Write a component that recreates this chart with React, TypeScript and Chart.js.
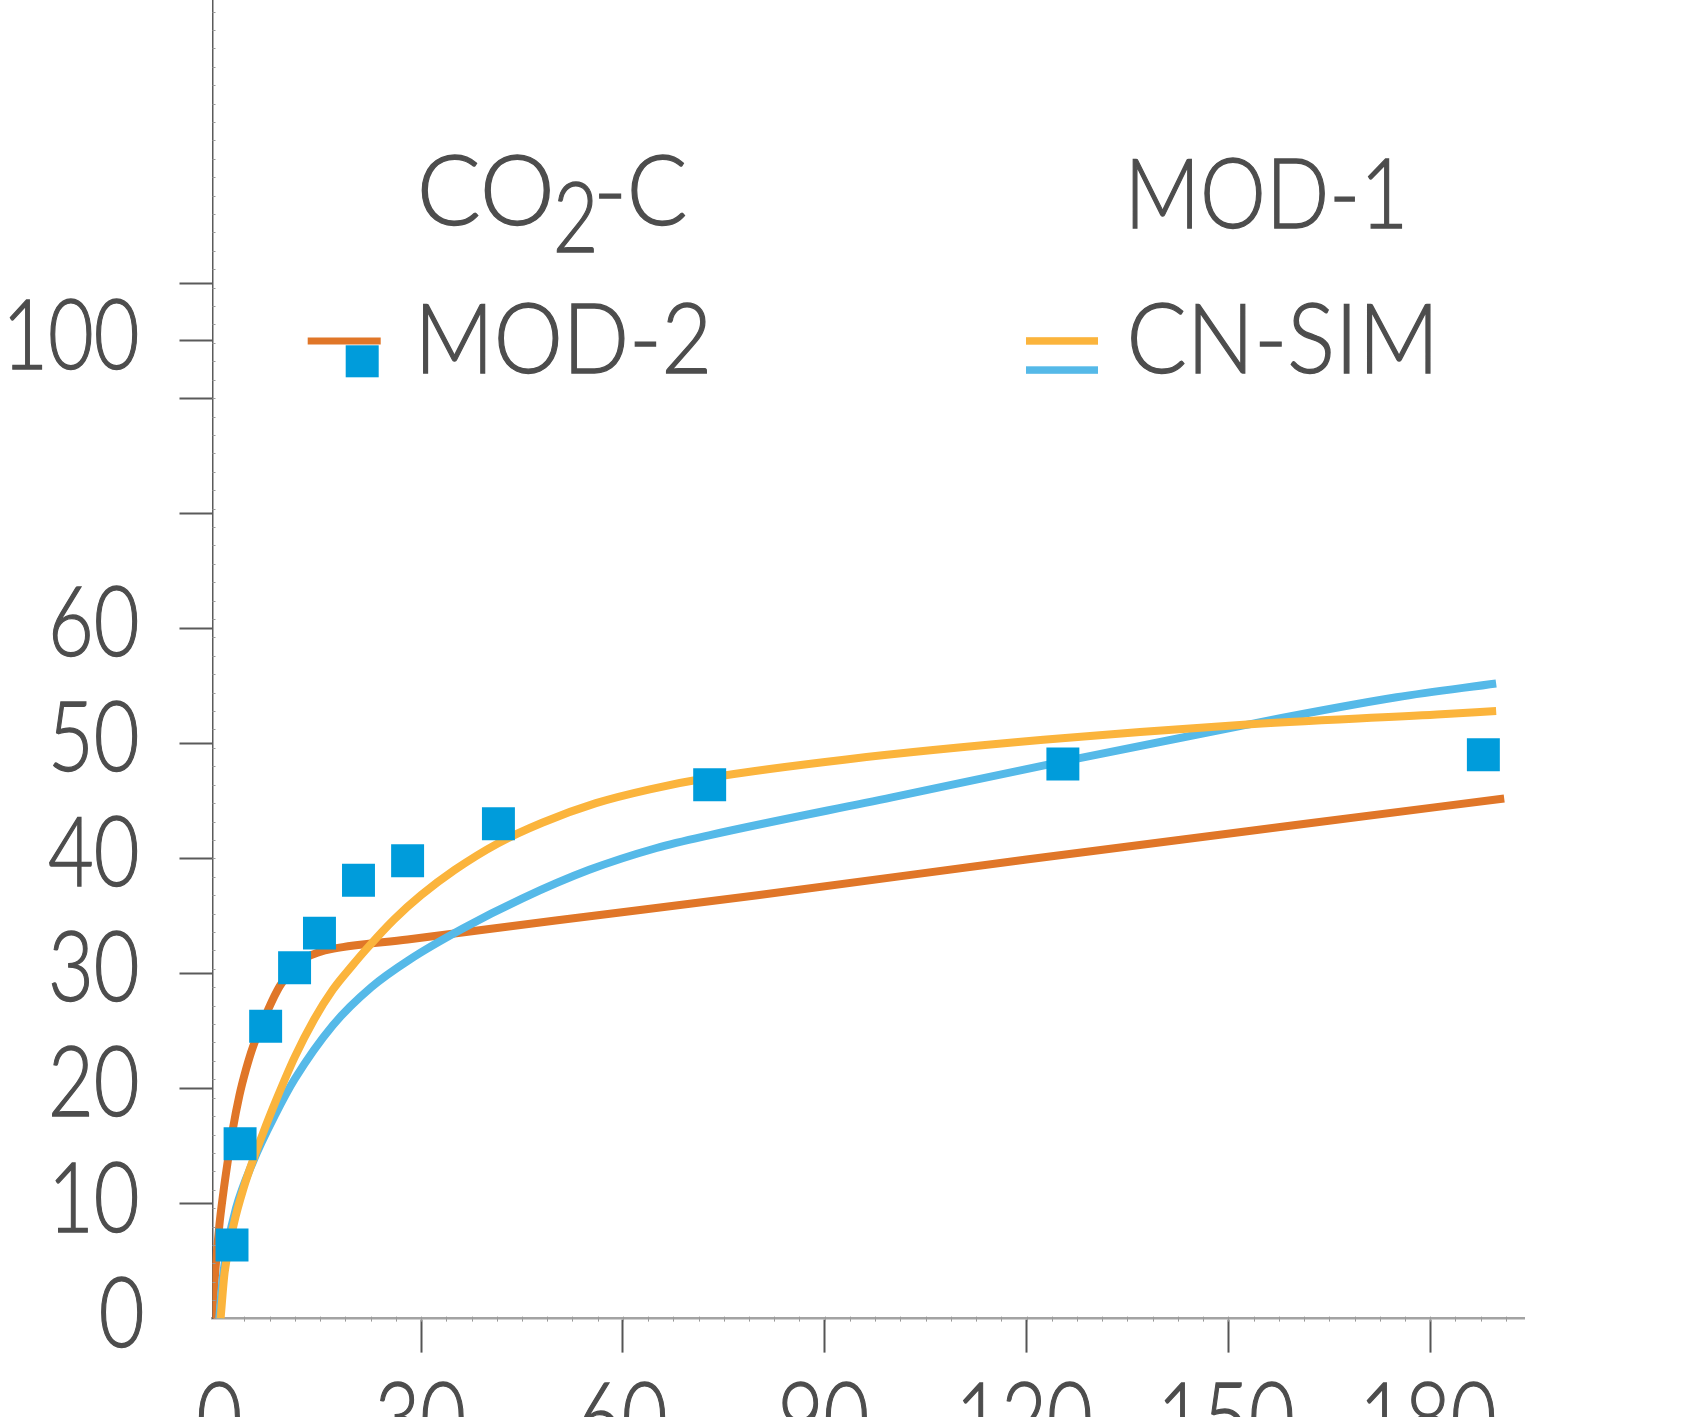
import React, { useEffect, useRef } from 'react';
import { Chart, registerables } from 'chart.js';

Chart.register(...registerables);

// ---- Data ----
const co2cDays = [1.9, 3.1, 6.9, 11.2, 14.9, 20.7, 28.0, 41.5, 72.9, 125.4, 187.9];
const co2cValues = [6.4, 15.2, 25.4, 30.5, 33.5, 38.1, 39.8, 43.0, 46.4, 48.2, 49.0];

const mod2Days = [-1.1, -0.6, 0, 0.6, 1.2, 2.0, 3.0, 4.0, 5.0, 7.3, 9.0, 11.2, 13, 14.6, 17, 28, 50, 80, 120, 160, 191];
const mod2Values = [0, 4.0, 8.0, 10.9, 13.4, 16.4, 19.4, 21.7, 23.6, 26.9, 28.9, 30.6, 31.4, 31.8, 32.15, 32.95, 34.6, 36.8, 39.9, 42.9, 45.2];

const mod1Days = [0.2, 0.8, 2.2, 3.6, 5.1, 6.5, 8.4, 11.2, 14.1, 16.9, 19.8, 22.0, 26, 30, 35, 41.4, 48, 56, 64, 72.8, 93.2, 122.5, 151.7, 181, 189.8];
const mod1Values = [0, 4.0, 8.3, 11.3, 13.9, 16.1, 18.9, 22.7, 26.0, 28.6, 30.7, 32.2, 34.7, 36.8, 39.0, 41.3, 43.1, 44.8, 46.0, 47.0, 48.6, 50.3, 51.6, 52.5, 52.8];

const cnsimDays = [0, 0.5, 1.2, 2.5, 5.0, 8.4, 11.2, 16.9, 22.6, 28.3, 36.2, 45, 55, 65, 72.8, 100, 125.3, 151.7, 175, 189.8];
const cnsimValues = [0, 3.4, 6.2, 9.6, 13.6, 17.8, 20.8, 25.5, 28.8, 31.2, 33.9, 36.5, 39.0, 40.9, 42.0, 45.3, 48.4, 51.5, 54.0, 55.2];

const xLabelValues = [0, 30, 60, 90, 120, 150, 180];
const xLabelTexts = ['0', '30', '60', '90', '120', '150', '180'];
const xTickMarkValues = [30, 60, 90, 120, 150, 180];

const yLabelValues = [0, 10, 20, 30, 40, 50, 60, 85];
const yLabelTexts = ['0', '10', '20', '30', '40', '50', '60', '100'];
const yTickMarkValues = [10, 20, 30, 40, 50, 60, 70, 80, 85, 90];

const seriesNames = ['CO2-C', 'MOD-1', 'MOD-2', 'CN-SIM'];

const X_MIN = -1;
const X_MAX = 194;
const Y_MIN = 0;
const Y_MAX = 114.6;

const COLORS = {
  square: '#009cdb',
  mod2: '#e07628',
  mod1: '#fbb43c',
  cnsim: '#55b9e8',
  text: '#4d4d4d',
};

const W = 1681;
const H = 1417;
const AREA = { left: 212.5, right: 1524.4, top: 0, bottom: 1318.6 };
const FONT_FAMILY = 'Lato, "Open Sans", sans-serif';
const FONT_WEIGHT = 300;

function pts(xs: number[], ys: number[]) {
  return xs.map((x, i) => ({ x, y: ys[i] }));
}

type InkOpts = { left?: number; right?: number; center?: number; baseline: number; scaleX?: number; width?: number };

function drawInk(ctx: CanvasRenderingContext2D, text: string, size: number, o: InkOpts) {
  ctx.font = `${FONT_WEIGHT} ${size}px ${FONT_FAMILY}`;
  ctx.textAlign = 'left';
  ctx.textBaseline = 'alphabetic';
  const m = ctx.measureText(text);
  const inkW = m.actualBoundingBoxLeft + m.actualBoundingBoxRight;
  const sx = o.width ? o.width / inkW : (o.scaleX ?? 1);
  const w = inkW * sx;
  let left = 0;
  if (o.left !== undefined) left = o.left;
  else if (o.right !== undefined) left = o.right - w;
  else if (o.center !== undefined) left = o.center - w / 2;
  ctx.save();
  ctx.translate(left, o.baseline);
  ctx.scale(sx, 1);
  ctx.fillText(text, m.actualBoundingBoxLeft, 0);
  ctx.lineWidth = 1.3;
  ctx.strokeStyle = ctx.fillStyle as string;
  ctx.strokeText(text, m.actualBoundingBoxLeft, 0);
  ctx.restore();
}

const decorPlugin = {
  id: 'decor',
  afterDraw(chart: any) {
    const ctx: CanvasRenderingContext2D = chart.ctx;
    const xs = chart.scales.x;
    const ys = chart.scales.y;
    const area = chart.chartArea;
    ctx.save();

    // minor ticks
    ctx.strokeStyle = '#9a9a9a';
    ctx.lineWidth = 1;
    ctx.beginPath();
    for (let v = 3.75; v < X_MAX; v += 3.75) {
      const p = Math.round(xs.getPixelForValue(v)) + 0.5;
      ctx.moveTo(p, area.bottom - 2);
      ctx.lineTo(p, area.bottom + 3);
    }
    for (let v = 1.6; v < Y_MAX; v += 1.6) {
      const p = Math.round(ys.getPixelForValue(v)) + 0.5;
      ctx.moveTo(area.left, p);
      ctx.lineTo(area.left + 3, p);
    }
    ctx.stroke();

    // tick labels
    ctx.fillStyle = COLORS.text;
    const size = 97;
    ctx.font = `${FONT_WEIGHT} ${size}px ${FONT_FAMILY}`;
    const m100 = ctx.measureText('100');
    const digitScale = 127.4 / (m100.actualBoundingBoxLeft + m100.actualBoundingBoxRight);
    yLabelValues.forEach((v, i) => {
      const py = ys.getPixelForValue(v);
      drawInk(ctx, yLabelTexts[i], size, { right: v === 0 ? 142 : 137, baseline: py + 28, scaleX: digitScale });
    });
    xLabelValues.forEach((v, i) => {
      const px = xs.getPixelForValue(v);
      drawInk(ctx, xLabelTexts[i], size, { center: px, baseline: 1382 + 70, scaleX: digitScale });
    });

    // legend (reproducing the reference's layout)
    const ds = chart.data.datasets;
    ctx.fillStyle = ds[3].borderColor; // MOD-2 line colour
    ctx.fillRect(307.7, 337.5, 73, 7);
    ctx.fillStyle = ds[0].backgroundColor; // CO2-C square
    ctx.fillRect(345.7, 345.3, 33, 32);
    ctx.fillStyle = ds[1].borderColor; // MOD-1 line
    ctx.fillRect(1026, 337.2, 72, 7.5);
    ctx.fillStyle = ds[2].borderColor; // CN-SIM line
    ctx.fillRect(1026, 366.3, 72, 7.5);

    ctx.fillStyle = COLORS.text;
    const co2 = seriesNames[0]; // 'CO2-C'
    drawInk(ctx, co2.slice(0, 2), size, { left: 421.7, baseline: 225, width: 128.5 });
    drawInk(ctx, co2.slice(2, 3), size, { left: 556.7, baseline: 252, width: 36.6 });
    drawInk(ctx, co2.slice(3), size, { left: 599, baseline: 225, width: 86 });
    drawInk(ctx, seriesNames[1], size, { left: 1133, baseline: 227.5, width: 269 });
    drawInk(ctx, seriesNames[2], size, { left: 423.5, baseline: 373, width: 283 });
    drawInk(ctx, seriesNames[3], size, { left: 1131, baseline: 373, width: 299 });

    ctx.restore();
  },
};

export default function App() {
  const canvasRef = useRef<HTMLCanvasElement | null>(null);

  useEffect(() => {
    const canvas = canvasRef.current;
    if (!canvas) return;
    const lineBase = {
      showLine: true,
      pointRadius: 0,
      pointHoverRadius: 0,
      borderWidth: 8,
      fill: false,
      cubicInterpolationMode: 'monotone' as const,
      borderCapStyle: 'butt' as const,
    };
    const chart = new Chart(canvas, {
      type: 'scatter',
      data: {
        datasets: [
          {
            label: seriesNames[0],
            data: pts(co2cDays, co2cValues),
            pointStyle: 'rect',
            pointRadius: 23.3,
            pointBorderWidth: 0,
            backgroundColor: COLORS.square,
            borderColor: COLORS.square,
            showLine: false,
            order: 0,
          },
          {
            ...lineBase,
            label: seriesNames[1],
            data: pts(mod1Days, mod1Values),
            borderColor: COLORS.mod1,
            backgroundColor: COLORS.mod1,
            order: 1,
          },
          {
            ...lineBase,
            label: seriesNames[3],
            data: pts(cnsimDays, cnsimValues),
            borderColor: COLORS.cnsim,
            backgroundColor: COLORS.cnsim,
            order: 2,
          },
          {
            ...lineBase,
            label: seriesNames[2],
            data: pts(mod2Days, mod2Values),
            borderColor: COLORS.mod2,
            backgroundColor: COLORS.mod2,
            order: 3,
          },
        ],
      },
      options: {
        responsive: false,
        animation: false,
        devicePixelRatio: 1,
        layout: { autoPadding: false, padding: { left: 0, top: 0, right: W - AREA.right, bottom: 0 } },
        plugins: {
          legend: { display: false },
          tooltip: { enabled: false },
        },
        scales: {
          x: {
            type: 'linear',
            min: X_MIN,
            max: X_MAX,
            afterBuildTicks: (s: any) => {
              s.ticks = xTickMarkValues.map((v) => ({ value: v }));
            },
            afterFit: (s: any) => {
              s.height = H - AREA.bottom;
            },
            ticks: { display: false },
            grid: {
              display: true,
              drawOnChartArea: false,
              drawTicks: true,
              tickLength: 34,
              tickColor: '#555555',
              tickWidth: 2,
            },
            border: { display: true, color: '#a3a3a3', width: 2.5 },
          },
          y: {
            type: 'linear',
            min: Y_MIN,
            max: Y_MAX,
            afterBuildTicks: (s: any) => {
              s.ticks = yTickMarkValues.map((v) => ({ value: v }));
            },
            afterFit: (s: any) => {
              s.width = AREA.left;
            },
            ticks: { display: false },
            grid: {
              display: true,
              drawOnChartArea: false,
              drawTicks: true,
              tickLength: 33,
              tickColor: '#5a5a5a',
              tickWidth: 2,
            },
            border: { display: true, color: '#5a5a5a', width: 1.5 },
          },
        },
      },
      plugins: [decorPlugin],
    } as any);
    return () => chart.destroy();
  }, []);

  return (
    <div style={{ position: 'fixed', left: 0, top: 0, width: W, height: H, background: '#ffffff' }}>
      <canvas ref={canvasRef} width={W} height={H} style={{ display: 'block', width: W, height: H }} />
    </div>
  );
}
